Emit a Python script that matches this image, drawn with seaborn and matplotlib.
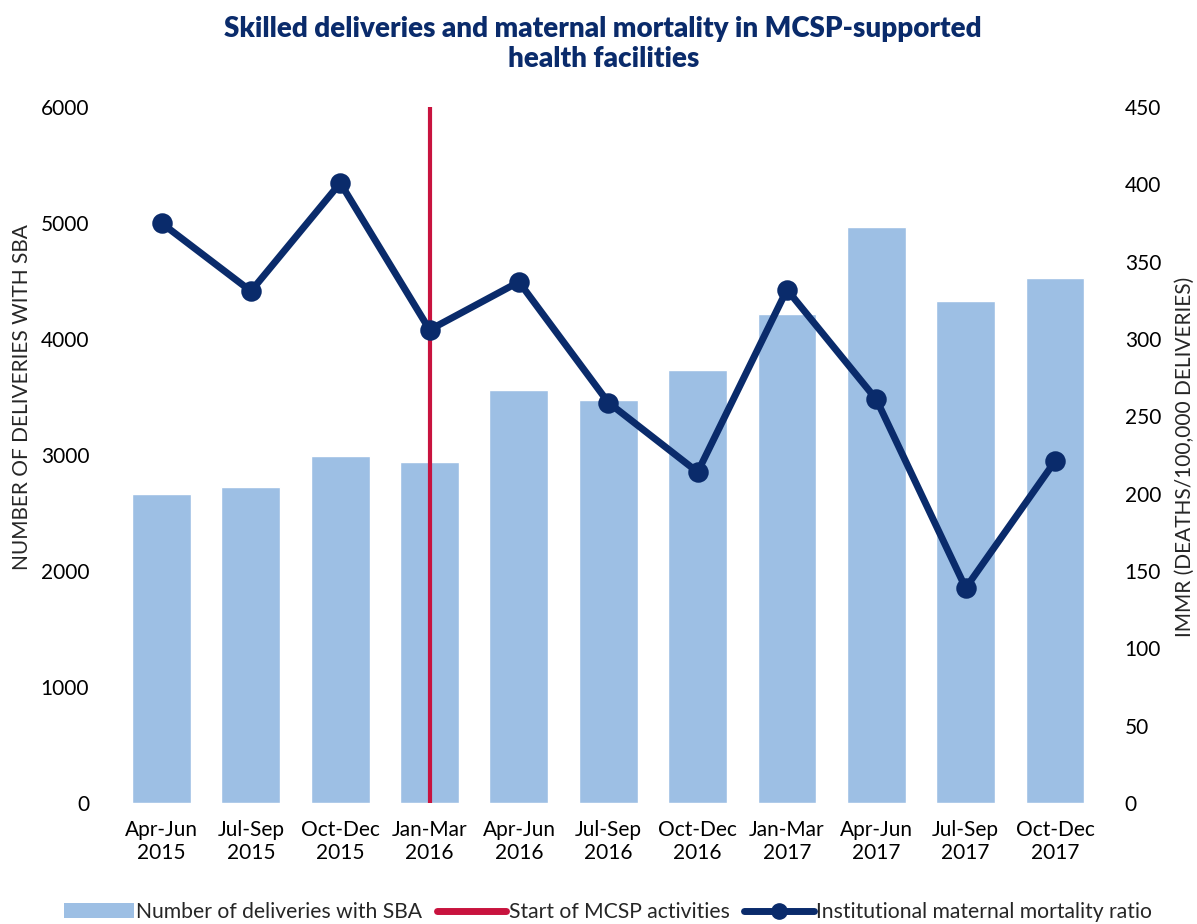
import pandas as pd
import matplotlib
matplotlib.use("Agg")
import matplotlib.pyplot as plt
import seaborn as sns
from matplotlib.patches import Patch
from matplotlib.lines import Line2D

# data
quarters = ["Apr-Jun\n2015", "Jul-Sep\n2015", "Oct-Dec\n2015", "Jan-Mar\n2016",
            "Apr-Jun\n2016", "Jul-Sep\n2016", "Oct-Dec\n2016", "Jan-Mar\n2017",
            "Apr-Jun\n2017", "Jul-Sep\n2017", "Oct-Dec\n2017"]
deliveries = [2662, 2723, 2992, 2940, 3557, 3474, 3734, 4213, 4967, 4328, 4525]
immr = [375, 331, 401, 306, 337, 259, 214, 332, 261, 139, 221]
mcsp_start = "Jan-Mar\n2016"

left_ticks = [0, 1000, 2000, 3000, 4000, 5000, 6000]
right_ticks = [0, 50, 100, 150, 200, 250, 300, 350, 400, 450]

BAR = "#9DBFE4"
NAVY = "#0A2B6B"
RED = "#C8133E"

sns.set_theme(style="white")
plt.rcParams["font.family"] = ["Lato", "DejaVu Sans"]

df = pd.DataFrame({"quarter": quarters, "deliveries": deliveries, "immr": immr})

fig = plt.figure(figsize=(11.97, 9.24), dpi=100)
ax = fig.add_axes([0.0977, 0.131, 0.821, 0.753])

sns.barplot(data=df, x="quarter", y="deliveries", color=BAR, width=0.66,
            saturation=1, ax=ax, zorder=1)
ax.axvline(quarters.index(mcsp_start), color=RED, lw=3, zorder=3)
ax.set_ylim(0, 6000)
ax.set_yticks(left_ticks)
ax.set_xlabel("")
ax.set_ylabel("")

ax2 = ax.twinx()
sns.pointplot(data=df, x="quarter", y="immr", color=NAVY, markers="o",
              markersize=11, linewidth=5, ax=ax2)
ax2.set_ylim(0, 450)
ax2.set_yticks(right_ticks)
ax2.set_xlim(-0.5, len(quarters) - 0.5)
ax2.set_ylabel("")
ax2.set_xlabel("")

for a in (ax, ax2):
    for s in a.spines.values():
        s.set_visible(False)
    a.tick_params(length=0, labelsize=15, colors="black")
    a.grid(False)
ax.tick_params(axis="y", pad=20)
ax2.tick_params(axis="y", pad=18)
ax.tick_params(axis="x", pad=12)

fig.text(0.018, 1 - 397 / 924, "NUMBER OF DELIVERIES WITH SBA", rotation=90,
         ha="center", va="center", fontsize=15)
fig.text(0.99, 1 - 457 / 924, "IMMR (DEATHS/100,000 DELIVERIES)", rotation=90,
         ha="center", va="center", fontsize=15)

fig.text(0.504, 1 - 44 / 924,
         "Skilled deliveries and maternal mortality in MCSP-supported\nhealth facilities",
         ha="center", va="center", fontsize=20, fontweight="heavy", color=NAVY,
         linespacing=1.15)

handles = [Patch(facecolor=BAR, edgecolor="none"),
           Line2D([], [], color=RED, lw=5, solid_capstyle="round"),
           Line2D([], [], color=NAVY, lw=5, marker="o", markersize=11)]
labels = ["Number of deliveries with SBA", "Start of MCSP activities",
          "Institutional maternal mortality ratio"]
fig.legend(handles, labels, loc="center", bbox_to_anchor=(0.508, 0.013),
           ncol=3, frameon=False, fontsize=15.2, handlelength=3.3,
           handletextpad=0.1, columnspacing=0.7)

fig.savefig("out.png", dpi=100)
